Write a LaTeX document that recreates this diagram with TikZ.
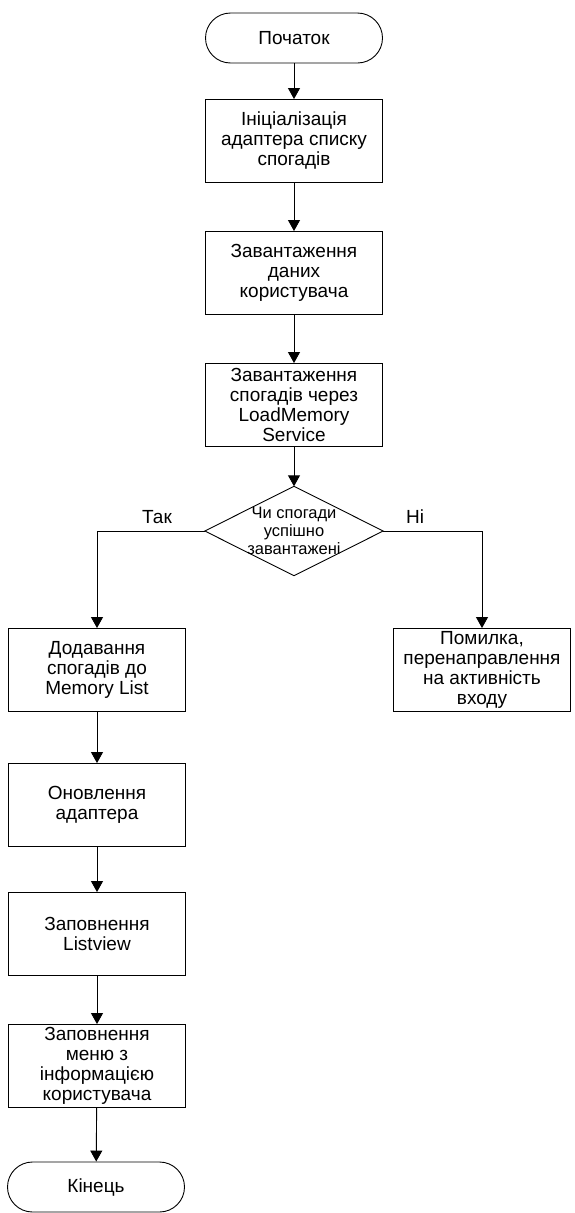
\documentclass[tikz,border=0pt]{standalone}
\usepackage{fontspec}
\setmainfont{Liberation Sans}
\usetikzlibrary{arrows.meta}
\begin{document}
\begin{tikzpicture}[x=1pt,y=-1pt,
  every node/.style={font=\fontsize{19}{20}\selectfont, align=center, inner sep=0pt},
  proc/.style={draw, line width=0.9pt, minimum width=177pt, minimum height=83pt},
  term/.style={draw, line width=0.9pt, rounded corners=25pt, minimum width=177pt, minimum height=50pt},
  flow/.style={line width=0.9pt, -{Triangle[length=11pt,width=12pt]}}]
\useasboundingbox (0,0) rectangle (574,1213);

% main column
\node[term] (start) at (294,38) {Початок};
\node[proc] (b1) at (294,141) {Ініціалізація\\адаптера списку\\спогадів};
\node[proc] (b2) at (294,273) {Завантаження\\даних\\користувача};
\node[proc] (b3) at (294,405) {Завантаження\\спогадів через\\LoadMemory\\Service};

% decision
\node[minimum width=178pt, minimum height=89pt, font=\fontsize{16.5}{18}\selectfont] (dec) at (294,531)
  {Чи спогади\\успішно\\завантажені};
\draw[line width=0.9pt] (dec.north) -- (dec.east) -- (dec.south) -- (dec.west) -- cycle;

% branches
\node[proc] (b4) at (97,670) {Додавання\\спогадів до\\Memory List};
\node[proc] (err) at (482,670) {Помилка,\\перенаправлення\\на активність\\входу};
\node[proc] (b5) at (97,805) {Оновлення\\адаптера};
\node[proc] (b6) at (97,934) {Заповнення\\Listview};
\node[proc] (b7) at (97,1066) {Заповнення\\меню з\\інформацією\\користувача};
\node[term] (end) at (96,1187) {Кінець};

% branch labels
\node (yes) at (157,517) {Так};
\node (no) at (415,517) {Ні};

% connectors
\draw[flow] (start) -- (b1);
\draw[flow] (b1) -- (b2);
\draw[flow] (b2) -- (b3);
\draw[flow] (b3) -- (dec.north);
\draw[flow] (dec.west) -| (b4.north);
\draw[flow] (dec.east) -| (err.north);
\draw[flow] (b4) -- (b5);
\draw[flow] (b5) -- (b6);
\draw[flow] (b6) -- (b7);
\draw[flow] (b7) -- (end);
\end{tikzpicture}
\end{document}
